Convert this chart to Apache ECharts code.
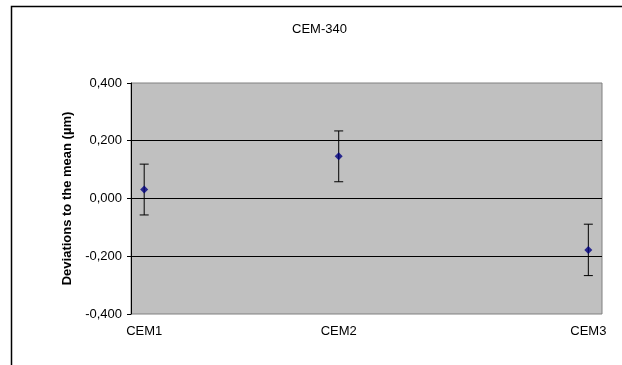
<!DOCTYPE html>
<html>
<head>
<meta charset="utf-8">
<script src="https://cdn.jsdelivr.net/npm/echarts@6/dist/echarts.min.js"></script>
<style>html,body{margin:0;padding:0;background:#fff}#c{width:622px;height:365px}</style>
</head>
<body>
<div id="c"></div>
<script>
const categories = ['CEM1', 'CEM2', 'CEM3'];
const xPositions = [2.8, 44.1, 97.1];
const deviations = [0.031, 0.146, -0.178];
const uncertainties = [0.088, 0.088, 0.089];
const yTicks = [-0.4, -0.2, 0, 0.2, 0.4];

const font = 'Liberation Sans, Arial, sans-serif';
const points = categories.map((c, i) => [xPositions[i], deviations[i]]);
const bars = categories.map((c, i) => [xPositions[i], deviations[i] - uncertainties[i], deviations[i] + uncertainties[i]]);

const chart = echarts.init(document.getElementById('c'));
chart.setOption({
  animation: false,
  backgroundColor: '#fff',
  title: {
    text: 'CEM-340', left: 287, top: 18,
    textStyle: { fontFamily: font, fontSize: 13, fontWeight: 'normal', color: '#000' }
  },
  graphic: [{
    type: 'rect', shape: { x: 11.5, y: 6.5, width: 700, height: 500 },
    style: { fill: null, stroke: '#000', lineWidth: 1.5 }, silent: true
  }],
  grid: {
    left: 131, right: 20, top: 83, bottom: 51,
    show: true, backgroundColor: '#C0C0C0', borderColor: '#808080', borderWidth: 1
  },
  xAxis: {
    type: 'value', min: 0, max: 100,
    axisLine: { show: false }, axisTick: { show: false }, splitLine: { show: false },
    axisLabel: {
      customValues: xPositions,
      formatter: v => categories[xPositions.indexOf(v)] || '',
      fontFamily: font, fontSize: 13, color: '#000', margin: 11
    }
  },
  yAxis: {
    type: 'value', min: yTicks[0], max: yTicks[yTicks.length - 1], interval: 0.2,
    name: 'Deviations to the mean (µm)', nameLocation: 'middle', nameGap: 54,
    nameTextStyle: { fontFamily: font, fontSize: 13, fontWeight: 'bold', color: '#000' },
    axisLine: { show: true, lineStyle: { color: '#000', width: 1 } },
    axisTick: { show: true, length: 4, lineStyle: { color: '#000' } },
    axisLabel: {
      formatter: v => v.toFixed(3).replace('.', ','),
      fontFamily: font, fontSize: 13, color: '#000', margin: 9
    },
    splitLine: { show: true, showMinLine: false, showMaxLine: false, lineStyle: { color: '#000', width: 1 } }
  },
  series: [
    {
      type: 'custom',
      data: bars,
      z: 3,
      renderItem: (params, api) => {
        const x = api.value(0);
        const lo = api.coord([x, api.value(1)]);
        const hi = api.coord([x, api.value(2)]);
        const cw = 4.5;
        const st = { stroke: '#000', lineWidth: 1 };
        return {
          type: 'group',
          children: [
            { type: 'line', shape: { x1: lo[0], y1: lo[1], x2: hi[0], y2: hi[1] }, style: st },
            { type: 'line', shape: { x1: lo[0] - cw, y1: lo[1], x2: lo[0] + cw, y2: lo[1] }, style: st },
            { type: 'line', shape: { x1: hi[0] - cw, y1: hi[1], x2: hi[0] + cw, y2: hi[1] }, style: st }
          ]
        };
      }
    },
    {
      type: 'scatter', data: points, symbol: 'diamond', symbolSize: 8, z: 4,
      itemStyle: { color: '#000080' }
    }
  ]
});
</script>
</body>
</html>
